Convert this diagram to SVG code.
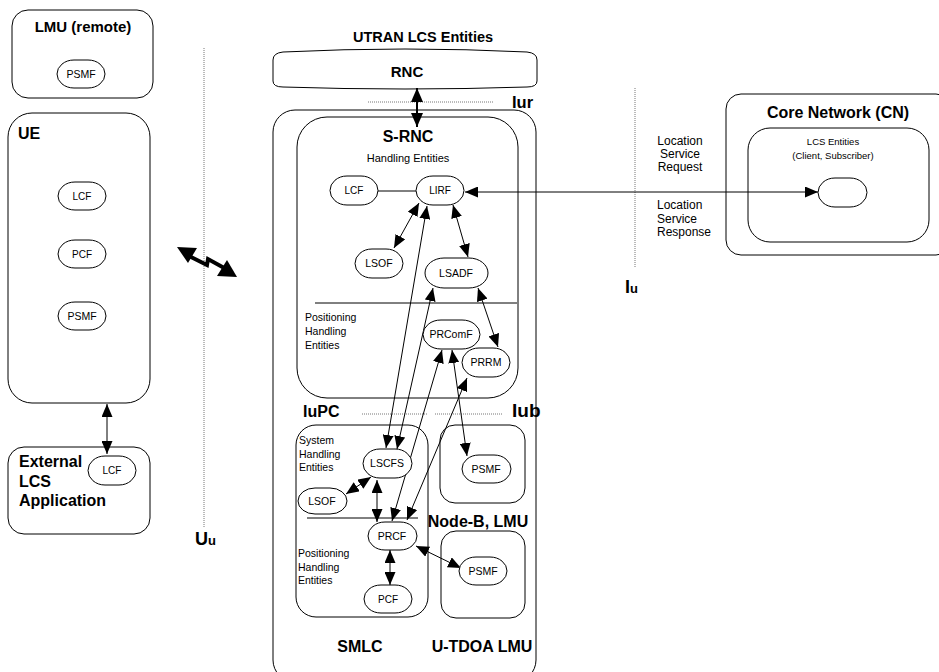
<svg xmlns="http://www.w3.org/2000/svg" width="939" height="672" viewBox="0 0 939 672">
<style>
.b{fill:none;stroke:#000;stroke-width:1}
.o{fill:#fff;stroke:#000;stroke-width:1}
text{font-family:"Liberation Sans",Arial,sans-serif;fill:#000}
.h{font-weight:bold}
.m{text-anchor:middle}
.c{stroke:#000;stroke-width:1;fill:none;marker-start:url(#ar);marker-end:url(#ar)}
.d{stroke:#777;stroke-width:1;stroke-dasharray:1 1;fill:none}
</style>
<defs>
<marker id="ar" viewBox="0 0 13 11" refX="13" refY="5.5" markerWidth="13" markerHeight="11" markerUnits="userSpaceOnUse" orient="auto-start-reverse"><path d="M0,0L13,5.5L0,11z"/></marker>
<marker id="ar2" viewBox="0 0 14 12" refX="14" refY="6" markerWidth="14" markerHeight="12" markerUnits="userSpaceOnUse" orient="auto-start-reverse"><path d="M0,0L14,6L0,12z"/></marker>
</defs>
<rect width="939" height="672" fill="#fff"/>

<g id="interfaces">
<path class="d" d="M204,48V527"/>
<path class="d" d="M635,88V268"/>
<path class="d" d="M368,102H493"/>
<path class="d" d="M362,414H427M435,414H503"/>
<text class="h" x="195" y="545"><tspan font-size="18">U</tspan><tspan font-size="13">u</tspan></text>
<text class="h" x="625" y="293"><tspan font-size="18">I</tspan><tspan font-size="13">u</tspan></text>
<text class="h" x="512" y="108" font-size="16.5">Iur</text>
<text class="h" x="303" y="417" font-size="16">IuPC</text>
<text class="h" x="512" y="417" font-size="19">Iub</text>
<text x="680" y="145" font-size="12" class="m">Location</text>
<text x="680" y="158" font-size="12" class="m">Service</text>
<text x="680" y="171" font-size="12" class="m">Request</text>
<text x="657" y="209" font-size="12">Location</text>
<text x="657" y="223" font-size="12">Service</text>
<text x="657" y="236" font-size="12">Response</text>
</g>

<g id="lmu-remote">
<rect class="b" x="12" y="10" width="141" height="88" rx="16"/>
<text class="h m" x="83" y="32" font-size="15">LMU (remote)</text>
</g>
<g id="ue">
<rect class="b" x="8" y="113" width="142" height="290" rx="24"/>
<text class="h" x="18" y="139" font-size="16">UE</text>
</g>
<g id="external-lcs">
<rect class="b" x="8" y="447" width="142" height="87" rx="16"/>
<text class="h" x="19" y="467" font-size="16">External</text>
<text class="h" x="19" y="487" font-size="16">LCS</text>
<text class="h" x="19" y="506" font-size="16">Application</text>
</g>
<g id="utran">
<rect class="b" x="273" y="110" width="263" height="572" rx="22"/>
<text class="h m" x="423" y="42" font-size="14.5">UTRAN LCS Entities</text>
</g>
<g id="rnc">
<path class="o" d="M273,60Q273,53 283,52Q405,46 527,52Q537,53 537,60L537,81Q537,87 527,87Q405,91 283,87Q273,87 273,81Z"/>
<text class="h m" x="407" y="77" font-size="15">RNC</text>
</g>
<g id="s-rnc">
<rect class="b" x="297" y="117" width="221" height="281" rx="30"/>
<text class="h m" x="408" y="142" font-size="16">S-RNC</text>
<text class="m" x="408" y="162" font-size="11">Handling Entities</text>
<path class="b" d="M315,303H517"/>
<text x="305" y="321" font-size="10.5">Positioning</text>
<text x="305" y="335" font-size="10.5">Handling</text>
<text x="305" y="349" font-size="10.5">Entities</text>
</g>
<g id="smlc">
<rect class="b" x="296" y="425" width="132" height="192" rx="20"/>
<text x="299" y="444" font-size="10.5">System</text>
<text x="299" y="458" font-size="10.5">Handling</text>
<text x="299" y="471" font-size="10.5">Entities</text>
<path class="b" d="M307,518H418"/>
<text x="298" y="557" font-size="10.5">Positioning</text>
<text x="298" y="571" font-size="10.5">Handling</text>
<text x="298" y="584" font-size="10.5">Entities</text>
<text class="h m" x="360" y="652" font-size="16">SMLC</text>
</g>
<g id="node-b">
<rect class="b" x="440" y="425" width="85" height="78" rx="15"/>
<text class="h m" x="478" y="527" font-size="16">Node-B, LMU</text>
</g>
<g id="u-tdoa">
<rect class="b" x="441" y="531" width="84" height="87" rx="15"/>
<text class="h m" x="482" y="652" font-size="16">U-TDOA LMU</text>
</g>
<g id="core-network">
<rect class="b" x="726" y="94" width="225" height="161" rx="15"/>
<text class="h m" x="838" y="118" font-size="16">Core Network (CN)</text>
<rect class="b" x="748" y="128" width="181" height="114" rx="22"/>
<text class="m" x="833" y="145" font-size="9.5">LCS Entities</text>
<text class="m" x="833" y="159" font-size="9.5">(Client, Subscriber)</text>
</g>

<g id="connectors">
<path class="b" d="M378,191H416"/>
<path class="c" d="M419,203L394,248"/>
<path class="c" d="M453,205L468,257"/>
<path class="c" d="M465,192H818"/>
<path class="c" d="M478,288L498,347"/>
<path class="c" d="M427,206L386,448"/>
<path class="c" d="M433,288L397,449"/>
<path class="c" d="M442,350L392,521"/>
<path class="c" d="M452,350L467,456"/>
<path class="c" d="M467,378L407,520"/>
<path class="c" d="M346,494L371,477"/>
<path class="c" d="M377,480V522"/>
<path class="c" d="M390,550V585"/>
<path class="c" d="M416,546L461,568"/>
<path d="M417,88V127" stroke="#000" stroke-width="2" fill="none" marker-start="url(#ar2)" marker-end="url(#ar2)"/>
<path class="c" d="M107,404V454" stroke-width="1.5"/>
<g id="radio-link">
<path d="M189,256L207,265L208,259L226,269" stroke="#000" stroke-width="4" fill="none"/>
<path d="M177,247L197,248L188,263Z"/>
<path d="M237,277L227,260L217,276Z"/>
</g>
</g>

<g id="lmu-psmf"><rect class="o" x="57" y="60" width="48" height="28" rx="17" ry="14"/><text class="m" x="81" y="78" font-size="10.5">PSMF</text></g>
<g id="ue-lcf"><rect class="o" x="58" y="182" width="48" height="28" rx="17" ry="14"/><text class="m" x="82" y="200" font-size="10">LCF</text></g>
<g id="ue-pcf"><rect class="o" x="58" y="240" width="48" height="28" rx="17" ry="14"/><text class="m" x="82" y="258" font-size="10">PCF</text></g>
<g id="ue-psmf"><rect class="o" x="58" y="302" width="48" height="28" rx="17" ry="14"/><text class="m" x="82" y="320" font-size="10.5">PSMF</text></g>
<g id="ext-lcf"><rect class="o" x="88" y="456" width="48" height="29" rx="17" ry="14.5"/><text class="m" x="112" y="474" font-size="10">LCF</text></g>
<g id="srnc-lcf"><rect class="o" x="330" y="176" width="48" height="29" rx="17" ry="14.5"/><text class="m" x="354" y="194" font-size="10">LCF</text></g>
<g id="lirf"><rect class="o" x="416" y="176" width="48" height="29" rx="17" ry="14.5"/><text class="m" x="440" y="194" font-size="10">LIRF</text></g>
<g id="srnc-lsof"><rect class="o" x="355" y="249" width="48" height="29" rx="17" ry="14.5"/><text class="m" x="379" y="267" font-size="10.5">LSOF</text></g>
<g id="lsadf"><rect class="o" x="425" y="258" width="63" height="30" rx="19" ry="15"/><text class="m" x="456" y="277" font-size="10.5">LSADF</text></g>
<g id="prcomf"><rect class="o" x="423" y="320" width="57" height="29" rx="18" ry="14.5"/><text class="m" x="451" y="338" font-size="10.5">PRComF</text></g>
<g id="prrm"><rect class="o" x="462" y="348" width="48" height="29" rx="17" ry="14.5"/><text class="m" x="486" y="366" font-size="10.5">PRRM</text></g>
<g id="lscfs"><rect class="o" x="363" y="449" width="49" height="29" rx="17" ry="14.5"/><text class="m" x="387" y="467" font-size="10.5">LSCFS</text></g>
<g id="smlc-lsof"><rect class="o" x="298" y="488" width="49" height="26" rx="17" ry="13"/><text class="m" x="322" y="505" font-size="10.5">LSOF</text></g>
<g id="prcf"><rect class="o" x="368" y="522" width="49" height="28" rx="17" ry="14"/><text class="m" x="392" y="540" font-size="10.5">PRCF</text></g>
<g id="pcf"><rect class="o" x="364" y="585" width="48" height="28" rx="17" ry="14"/><text class="m" x="388" y="603" font-size="10">PCF</text></g>
<g id="nodeb-psmf"><rect class="o" x="462" y="455" width="49" height="28" rx="17" ry="14"/><text class="m" x="486" y="473" font-size="10.5">PSMF</text></g>
<g id="utdoa-psmf"><rect class="o" x="459" y="557" width="48" height="28" rx="17" ry="14"/><text class="m" x="483" y="575" font-size="10.5">PSMF</text></g>
<g id="cn-entity"><rect class="o" x="818" y="178" width="49" height="29" rx="17" ry="14.5"/></g>
</svg>
